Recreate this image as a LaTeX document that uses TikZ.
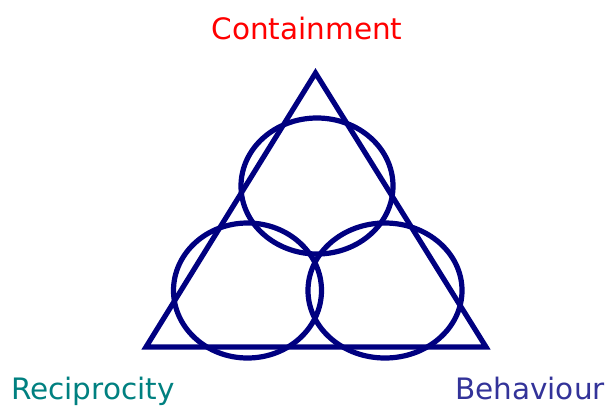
\documentclass[tikz,border=0pt]{standalone}
\usepackage{fontspec}
\setmainfont{DejaVu Sans}
\definecolor{navyline}{RGB}{0,0,128}
\definecolor{redtext}{RGB}{255,0,0}
\definecolor{tealtext}{RGB}{0,128,128}
\definecolor{bluetext}{RGB}{51,51,153}
\begin{document}
\begin{tikzpicture}[x=1pt,y=-1pt,
  shapeline/.style={draw=navyline,line width=5.2pt,line join=miter},
  label/.style={inner sep=0pt,font=\fontsize{29.5}{34}\selectfont}]
\useasboundingbox (0,0) rectangle (607,405);
\coordinate (apex) at (315.5,73);
\coordinate (bl) at (146,347);
\coordinate (br) at (486,347);
\draw[shapeline] (apex) -- (bl) -- (br) -- cycle;
\coordinate (ctop) at (317,186);
\coordinate (cleft) at (247.5,290.5);
\coordinate (cright) at (385,290.5);
\draw[shapeline] (ctop) ellipse [x radius=76, y radius=68];
\draw[shapeline] (cleft) ellipse [x radius=74, y radius=67.5];
\draw[shapeline] (cright) ellipse [x radius=77, y radius=67.5];
\node[label,text=redtext,anchor=base] (cont) at (307,39.5) {Containment};
\node[label,text=tealtext,anchor=base west] (reci) at (11,399) {Reciprocity};
\node[label,text=bluetext,anchor=base east] (beha) at (605,399) {Behaviour};
\end{tikzpicture}
\end{document}
